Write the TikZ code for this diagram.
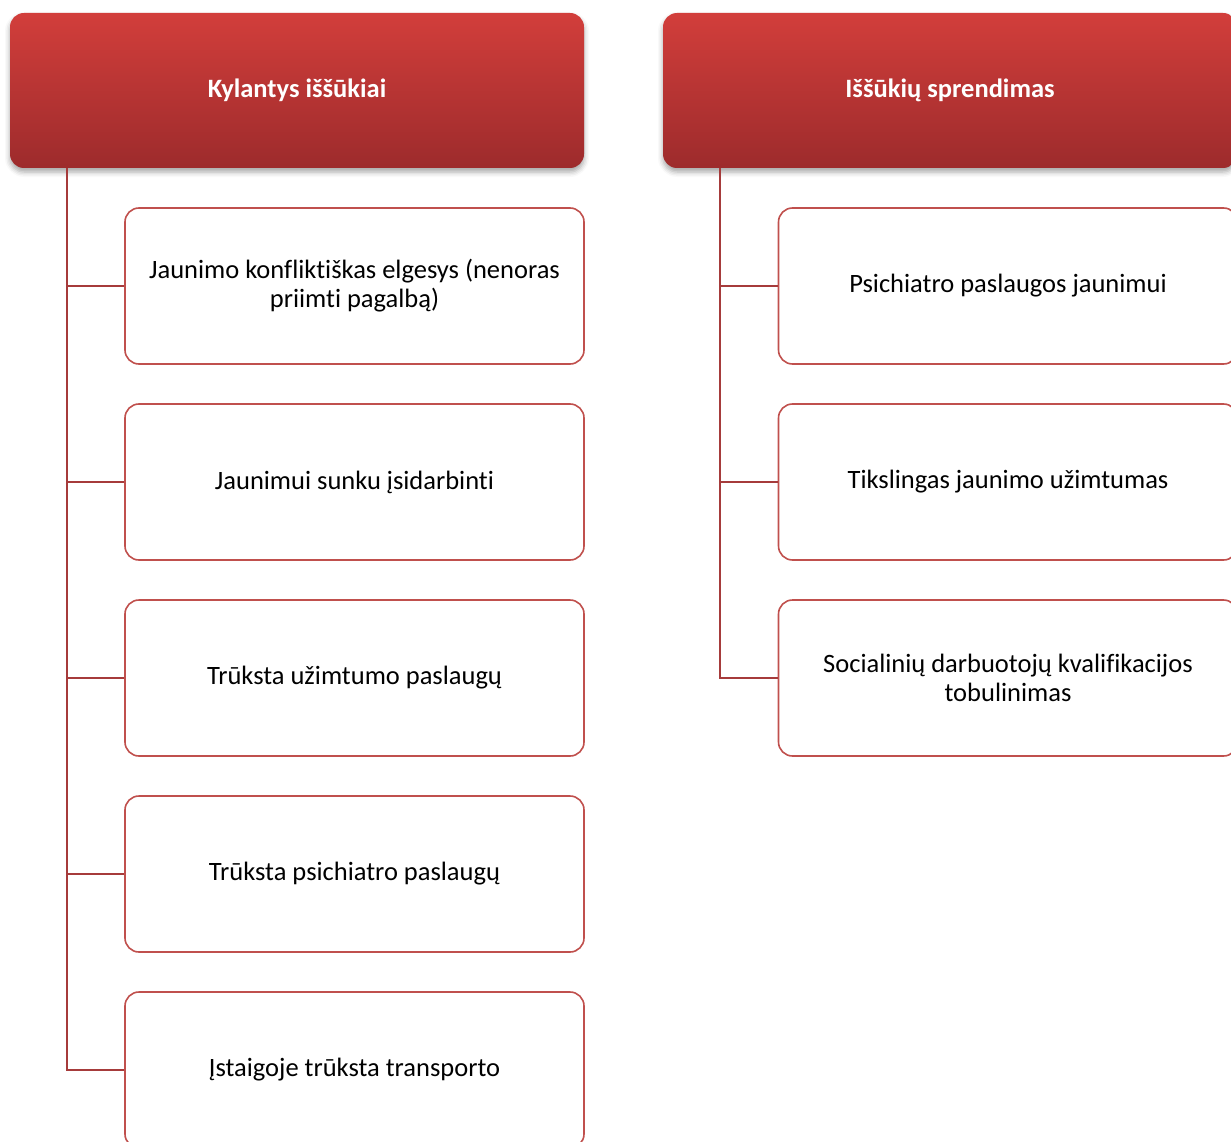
\documentclass[tikz,border=0pt]{standalone}
\usepackage{fontspec}
\setmainfont{Carlito}[Ligatures=NoCommon]
\usepackage{xcolor}
\usepackage{tikz}
\usetikzlibrary{shadows.blur}

\definecolor{hdrtop}{HTML}{D23E3B}
\definecolor{hdrbot}{HTML}{9D2B2C}
\definecolor{boxline}{HTML}{C0504D}
\definecolor{connline}{HTML}{A63B3B}

\tikzset{
  header/.style={rectangle, rounded corners=14pt, top color=hdrtop, bottom color=hdrbot,
    minimum width=574pt, minimum height=155pt, text=white, font=\fontsize{26.5}{29}\selectfont\bfseries,
    blur shadow={shadow xshift=0pt, shadow yshift=-4pt, shadow blur radius=5pt, shadow opacity=35}},
  item/.style={rectangle, draw=boxline, line width=1.6pt, rounded corners=14pt, fill=white,
    minimum width=459pt, minimum height=156pt, text width=425pt, align=flush center,
    font=\fontsize{26.5}{29}\selectfont},
  conn/.style={draw=connline, line width=1.6pt}
}

\begin{document}
\begin{tikzpicture}[x=1pt, y=-1pt]
\useasboundingbox (0,0) rectangle (1231,1142);
\clip (0,0) rectangle (1231,1142);
% Headers
\node[header] (h1) at (297,90.5) {Kylantys iššūkiai};
\node[header] (h2) at (950,90.5) {Iššūkių sprendimas};
% Challenges
\node[item] (c1) at (354.5,286) {Jaunimo konfliktiškas elgesys (nenoras priimti pagalbą)};
\node[item] (c2) at (354.5,482) {Jaunimui sunku įsidarbinti};
\node[item] (c3) at (354.5,678) {Trūksta užimtumo paslaugų};
\node[item] (c4) at (354.5,874) {Trūksta psichiatro paslaugų};
\node[item] (c5) at (354.5,1070) {Įstaigoje trūksta transporto};
% Solutions
\node[item] (s1) at (1008,286) {Psichiatro paslaugos jaunimui};
\node[item] (s2) at (1008,482) {Tikslingas jaunimo užimtumas};
\node[item] (s3) at (1008,678) {Socialinių darbuotojų kvalifikacijos tobulinimas};
% Connectors
\coordinate (t1) at (67,168);
\coordinate (t2) at (720,168);
\foreach \i in {1,...,5}
  \draw[conn] (t1) |- (c\i.west);
\foreach \i in {1,2,3}
  \draw[conn] (t2) |- (s\i.west);
\end{tikzpicture}
\end{document}
